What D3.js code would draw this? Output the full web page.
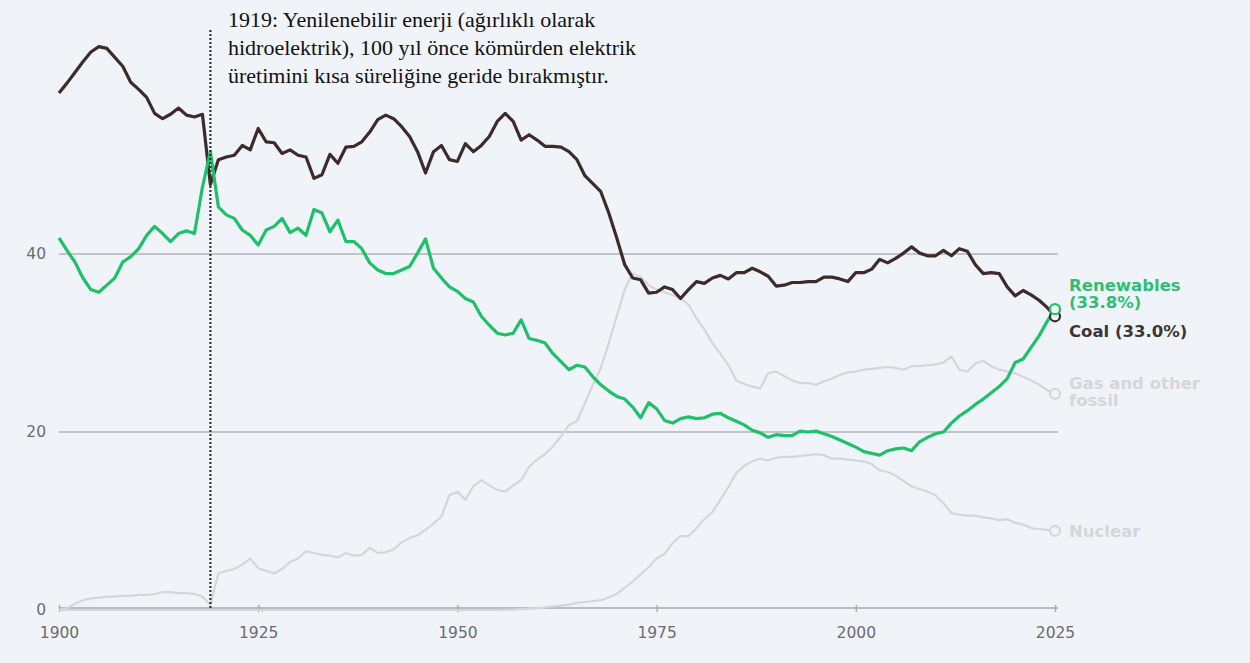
<!DOCTYPE html>
<html><head><meta charset="utf-8">
<script src="https://cdn.jsdelivr.net/npm/d3@7/dist/d3.min.js"></script>
<style>
html,body{margin:0;padding:0;background:#f0f4f8;}
svg{display:block;}
</style></head>
<body>
<svg id="chart" width="1250" height="663"></svg>
<script>
const years = d3.range(1900, 2026);
const coal = [58.1,59.2,60.4,61.6,62.7,63.3,63.1,62.1,61.1,59.3,58.5,57.6,55.8,55.2,55.7,56.4,55.6,55.4,55.7,47.8,
50.6,50.9,51.1,52.2,51.7,54.1,52.6,52.5,51.3,51.7,51.1,50.9,48.5,48.9,51.2,50.2,52.0,52.1,52.6,53.7,
55.1,55.6,55.2,54.3,53.2,51.5,49.1,51.5,52.2,50.6,50.4,52.4,51.5,52.2,53.2,54.9,55.8,54.9,52.8,53.4,
52.8,52.1,52.1,52.0,51.5,50.6,48.8,47.9,47.0,44.6,41.8,38.8,37.3,37.1,35.6,35.7,36.3,36.0,35.0,36.0,
36.9,36.7,37.3,37.6,37.2,37.9,37.9,38.4,38.0,37.5,36.4,36.5,36.8,36.8,36.9,36.9,37.4,37.4,37.2,36.9,
37.9,37.9,38.3,39.4,39.0,39.5,40.1,40.8,40.1,39.8,39.8,40.4,39.8,40.6,40.3,38.8,37.8,37.9,37.8,36.3,
35.3,35.9,35.4,34.8,34.0,33.0];
const renewables = [41.8,40.4,39.1,37.3,36.0,35.7,36.5,37.3,39.1,39.7,40.6,42.1,43.1,42.3,41.4,42.3,42.6,42.3,47.5,51.5,
45.3,44.4,44.0,42.7,42.1,41.0,42.7,43.1,44.0,42.4,42.9,42.1,45.0,44.6,42.5,43.8,41.4,41.4,40.6,39.0,
38.2,37.8,37.8,38.2,38.6,40.1,41.7,38.4,37.3,36.3,35.8,35.0,34.6,33.0,32.0,31.1,30.9,31.1,32.6,30.5,
30.3,30.0,28.8,27.9,27.0,27.5,27.3,26.2,25.3,24.6,24.0,23.7,22.8,21.6,23.3,22.6,21.3,21.0,21.5,21.7,
21.5,21.6,22.0,22.1,21.6,21.2,20.8,20.2,19.9,19.4,19.7,19.6,19.6,20.1,20.0,20.1,19.8,19.5,19.1,18.7,
18.3,17.8,17.6,17.4,17.9,18.1,18.2,17.9,18.9,19.4,19.8,20.0,21.0,21.8,22.4,23.1,23.7,24.4,25.1,26.0,
27.8,28.2,29.5,30.8,32.4,33.8];
const gas = [0.0,0.2,0.7,1.1,1.3,1.4,1.5,1.5,1.6,1.6,1.7,1.7,1.8,2.0,2.0,1.9,1.9,1.8,1.5,0.6,
4.1,4.4,4.6,5.1,5.8,4.7,4.4,4.1,4.6,5.4,5.8,6.6,6.4,6.2,6.1,5.9,6.4,6.1,6.2,7.0,
6.4,6.5,6.8,7.6,8.1,8.4,9.0,9.7,10.5,12.9,13.3,12.4,13.9,14.6,14.0,13.5,13.3,14.0,14.6,16.1,
16.9,17.5,18.4,19.5,20.8,21.2,23.2,25.3,27.2,30.0,33.0,36.0,37.8,37.4,36.5,36.0,35.7,35.4,35.0,34.3,
32.8,31.5,30.0,28.8,27.5,25.8,25.4,25.1,24.9,26.6,26.8,26.3,25.8,25.5,25.5,25.3,25.7,26.0,26.4,26.7,
26.8,27.0,27.1,27.2,27.3,27.2,27.0,27.4,27.4,27.5,27.6,27.8,28.5,27.0,26.8,27.7,28.0,27.4,27.0,26.8,
26.6,26.2,25.8,25.3,24.7,24.3];
const nuclear = [].concat(new Array(56).fill(0), [
0.02,0.05,0.1,0.15,0.2,0.3,0.4,0.5,0.6,0.8,0.9,1.0,1.1,1.4,1.8,2.5,3.2,4.0,4.8,5.8,
6.3,7.5,8.3,8.3,9.2,10.2,11.0,12.4,13.8,15.4,16.2,16.7,17.0,16.8,17.1,17.2,17.2,17.3,17.4,17.5,
17.4,17.0,17.0,16.9,16.8,16.7,16.4,15.7,15.5,15.1,14.5,13.9,13.6,13.3,12.9,12.0,10.9,10.7,10.6,10.6,
10.4,10.3,10.1,10.2,9.8,9.6,9.2,9.1,9.0,8.9]);
const yTicks = [0, 20, 40];
const xTicks = [1900, 1925, 1950, 1975, 2000, 2025];
const seriesNames = ["Gas and other fossil", "Nuclear", "Coal", "Renewables"];
const labelLines = [["Gas and other", "fossil"], ["Nuclear"], ["Coal (33.0%)"], ["Renewables", "(33.8%)"]];
const annotationLines = ["1919: Yenilenebilir enerji (ağırlıklı olarak", "hidroelektrik), 100 yıl önce kömürden elektrik", "üretimini kısa süreliğine geride bırakmıştır."];

const svg = d3.select("#chart");
const x = d3.scaleLinear().domain([1900, 2025]).range([59, 1055]);
const y = d3.scaleLinear().domain([0, 65]).range([610, 31.5]);

const colors = {"Gas and other fossil":"#d6d5da","Nuclear":"#d6d5da","Coal":"#3d2a2a","Renewables":"#1fc06c"};
const widths = {"Gas and other fossil":2.2,"Nuclear":2.2,"Coal":3.2,"Renewables":3.2};
const dataMap = {"Gas and other fossil":gas,"Nuclear":nuclear,"Coal":coal,"Renewables":renewables};
const sansFont = "'DejaVu Sans', Verdana, sans-serif";

// grid lines
svg.append("g").selectAll("line").data(yTicks.filter(d=>d>0)).join("line")
  .attr("x1", x(1900)).attr("x2", x(2025)+3)
  .attr("y1", d=>y(d)).attr("y2", d=>y(d))
  .attr("stroke", "#b4b4ba").attr("stroke-width", 1.6);

// y labels
svg.append("g").selectAll("text").data(yTicks).join("text")
  .attr("x", 46).attr("y", d=>y(d)).attr("dy", "0.35em")
  .attr("text-anchor", "end")
  .attr("font-family", sansFont).attr("font-size", 15.5)
  .attr("fill", "#6b6b72").text(d=>d);

// x axis
const xAxis = d3.axisBottom(x).tickValues(xTicks).tickFormat(d3.format("d")).tickSize(5).tickPadding(14);
const gx = svg.append("g").attr("transform", `translate(0,${y(0)-2})`).call(xAxis);
gx.select(".domain").attr("stroke", "#a8a8b0").attr("stroke-width", 1.6).attr("d", `M${x(1900)},0H${x(2025)+3}`);
gx.selectAll(".tick line").attr("stroke", "#a8a8b0").attr("stroke-width", 1.4).attr("y1", -3).attr("y2", 4);
gx.selectAll(".tick text").attr("font-family", sansFont).attr("font-size", 15.5).attr("fill", "#6b6b72");

// lines
const line = d3.line().x((d,i)=>x(years[i])).y(d=>y(d));
seriesNames.forEach(name=>{
  svg.append("path").datum(dataMap[name])
    .attr("fill","none").attr("stroke",colors[name]).attr("stroke-width",widths[name])
    .attr("stroke-linejoin","round").attr("d", line);
});

// annotation dotted line
svg.append("line").attr("x1", x(1919)).attr("x2", x(1919))
  .attr("y1", 30).attr("y2", y(0))
  .attr("stroke", "#333").attr("stroke-width", 2.2).attr("stroke-dasharray", "2,2");

svg.append("g").selectAll("text").data(annotationLines).join("text")
  .attr("x", 228).attr("y", (d,i)=>27 + i*28)
  .attr("font-family", "'Liberation Serif', 'Times New Roman', serif").attr("font-size", 22)
  .attr("fill", "#111").text(d=>d);

// end circles
seriesNames.forEach(name=>{
  const v = dataMap[name];
  svg.append("circle").attr("cx", x(2025)).attr("cy", y(v[v.length-1])).attr("r", 5)
    .attr("fill", "#f0f4f8").attr("stroke", colors[name]).attr("stroke-width", 2.2);
});

// end labels
const labelY = {"Renewables":285, "Coal":331, "Gas and other fossil":383, "Nuclear":531};
const labelColors = {"Gas and other fossil":"#d6d5da","Nuclear":"#d6d5da","Coal":"#3f3535","Renewables":"#2dbf76"};
seriesNames.forEach((name,k)=>{
  const t = svg.append("text").attr("x", 1069).attr("y", labelY[name])
    .attr("font-family", sansFont).attr("font-size", 16.5).attr("font-weight", 700)
    .attr("fill", labelColors[name]);
  labelLines[k].forEach((s,i)=>{
    t.append("tspan").attr("x", 1069).attr("dy", i===0 ? "0.35em" : 17).text(s);
  });
});
</script>
</body></html>
